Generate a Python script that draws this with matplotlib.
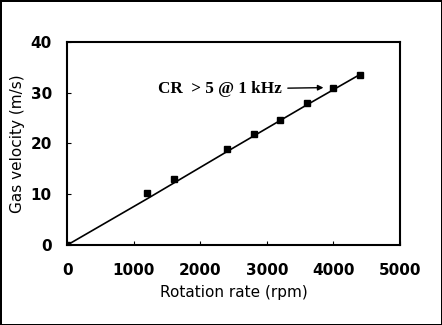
import matplotlib
matplotlib.use('Agg')
import matplotlib.pyplot as plt

# Datos medidos: velocidad del gas frente a velocidad de rotacion
rpm = [0, 1200, 1600, 2400, 2800, 3200, 3600, 4000, 4400]
velocidad = [0, 10.2, 13.1, 19.0, 21.8, 24.6, 27.9, 31.0, 33.5]

# Curva de ajuste
ajuste_rpm = [0, 1200, 2400, 3600, 4000, 4400]
ajuste_vel = [0, 9.1, 18.4, 27.6, 30.6, 33.6]

xticks = [0, 1000, 2000, 3000, 4000, 5000]
yticks = [0, 10, 20, 30, 40]

fig = plt.figure(figsize=(4.42, 3.25), dpi=100)
fig.patch.set_edgecolor('black')
fig.patch.set_linewidth(2)
ax = fig.add_axes([0.152, 0.246, 0.753, 0.625])

ax.plot(ajuste_rpm, ajuste_vel, color='black', linewidth=1.2)
ax.plot(rpm, velocidad, linestyle='none', marker='s', markersize=5,
        color='black')

ax.set_xlim(0, 5000)
ax.set_ylim(0, 40)
ax.set_xticks(xticks)
ax.set_yticks(yticks)
ax.tick_params(direction='in', length=3, width=0.8, labelsize=11)
ax.tick_params(axis='x', pad=13)
ax.tick_params(axis='y', pad=11)
for lbl in ax.get_xticklabels() + ax.get_yticklabels():
    lbl.set_fontweight('bold')
for s in ax.spines.values():
    s.set_linewidth(1.5)

ax.set_xlabel('Rotation rate (rpm)', fontsize=11, labelpad=5)
ax.set_ylabel('Gas velocity (m/s)', fontsize=11, labelpad=4)

ax.annotate('CR  > 5 @ 1 kHz', xy=(3850, 31), xytext=(1370, 30.7),
            fontsize=12.3, fontweight='bold', family='Liberation Serif',
            va='center',
            arrowprops=dict(arrowstyle='-|>', color='black', lw=1,
                            mutation_scale=8, shrinkA=2, shrinkB=0))

plt.savefig('out.png', dpi=100)
